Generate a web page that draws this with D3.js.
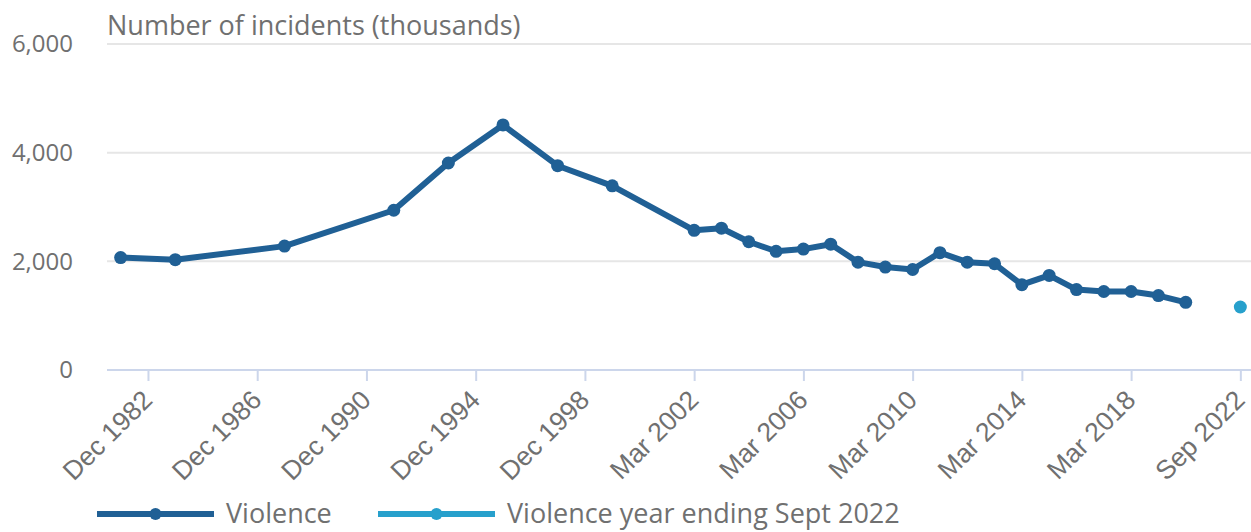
<!DOCTYPE html>
<html>
<head>
<meta charset="utf-8">
<script src="https://cdn.jsdelivr.net/npm/d3@7"></script>
<style>
  body { margin: 0; background: #fff; }
  svg { display: block; font-family: "Open Sans", sans-serif; }
</style>
</head>
<body>
<script>
"use strict";
// categories, one slot per survey period (gaps are years with no estimate)
var categories = [
  "Dec 1981", "Dec 1982", "Dec 1983", "Dec 1984", "Dec 1985", "Dec 1986", "Dec 1987",
  "Dec 1988", "Dec 1989", "Dec 1990", "Dec 1991", "Dec 1992", "Dec 1993", "Dec 1994",
  "Dec 1995", "Dec 1996", "Dec 1997", "Dec 1998", "Dec 1999", "Dec 2000", "Mar 2001",
  "Mar 2002", "Mar 2003", "Mar 2004", "Mar 2005", "Mar 2006", "Mar 2007", "Mar 2008",
  "Mar 2009", "Mar 2010", "Mar 2011", "Mar 2012", "Mar 2013", "Mar 2014", "Mar 2015",
  "Mar 2016", "Mar 2017", "Mar 2018", "Mar 2019", "Mar 2020", "Mar 2021", "Sep 2022"
];
var violence = [
  2070, null, 2030, null, null, null, 2280,
  null, null, null, 2940, null, 3810, null,
  4510, null, 3760, null, 3390, null, null,
  2570, 2610, 2360, 2185, 2225, 2315, 1985,
  1895, 1850, 2160, 1985, 1955, 1570, 1740,
  1480, 1445, 1445, 1370, 1245, null, null
];
var violenceSept2022 = [{ cat: "Sep 2022", value: 1160 }];
var tickLabels = ["Dec 1982", "Dec 1986", "Dec 1990", "Dec 1994", "Dec 1998",
  "Mar 2002", "Mar 2006", "Mar 2010", "Mar 2014", "Mar 2018", "Sep 2022"];
var yTicks = [0, 2000, 4000, 6000];
var seriesNames = ["Violence", "Violence year ending Sept 2022"];

(function () {
  var W = 1251, H = 532;
  var plot = { left: 107, right: 1254, top: 44, bottom: 370 };
  var dark = "#206095", light = "#27a0cc", textCol = "#707070";

  var svg = d3.select("body").append("svg")
    .attr("width", W).attr("height", H);

  var x = d3.scalePoint().domain(categories)
    .range([plot.left, plot.right]).padding(0.5);
  var y = d3.scaleLinear().domain([0, 6000]).range([plot.bottom, plot.top]);

  // gridlines
  svg.append("g").selectAll("line")
    .data(yTicks.filter(function (d) { return d > 0; }))
    .enter().append("line")
    .attr("x1", plot.left).attr("x2", W)
    .attr("y1", function (d) { return y(d); })
    .attr("y2", function (d) { return y(d); })
    .attr("stroke", "#e6e6e6").attr("stroke-width", 2);

  // y labels
  svg.append("g").selectAll("text")
    .data(yTicks).enter().append("text")
    .attr("x", 73).attr("y", function (d) { return y(d); })
    .attr("dy", "0.35em")
    .attr("text-anchor", "end")
    .attr("fill", textCol).style("font-size", "24px")
    .text(function (d) { return d3.format(",")(d); });

  svg.append("text")
    .attr("x", plot.left).attr("y", 35)
    .attr("fill", textCol).style("font-size", "27px")
    .text("Number of incidents (thousands)");

  // x axis
  var xAxis = svg.append("g")
    .attr("transform", "translate(0," + plot.bottom + ")")
    .call(d3.axisBottom(x).tickValues(tickLabels).tickSize(11).tickPadding(8));
  xAxis.select(".domain").attr("stroke", "#ccd6eb").attr("stroke-width", 2)
    .attr("d", "M" + plot.left + ",0H" + W);
  xAxis.selectAll(".tick line").attr("stroke", "#ccd6eb").attr("stroke-width", 2);
  xAxis.selectAll(".tick text")
    .attr("fill", textCol).style("font-size", "26.5px")
    .attr("text-anchor", "end")
    .attr("x", 0).attr("y", 0)
    .attr("dy", "0.35em")
    .attr("transform", "translate(-1,25) rotate(-45)");

  // violence line
  var pts = categories.map(function (c, i) { return { cat: c, value: violence[i] }; })
    .filter(function (d) { return d.value !== null; });

  var line = d3.line()
    .x(function (d) { return x(d.cat); })
    .y(function (d) { return y(d.value); });

  svg.append("path")
    .attr("d", line(pts))
    .attr("fill", "none")
    .attr("stroke", dark).attr("stroke-width", 6)
    .attr("stroke-linejoin", "round");

  svg.append("g").selectAll("circle")
    .data(pts).enter().append("circle")
    .attr("cx", function (d) { return x(d.cat); })
    .attr("cy", function (d) { return y(d.value); })
    .attr("r", 6.5).attr("fill", dark);

  svg.append("g").selectAll("circle")
    .data(violenceSept2022).enter().append("circle")
    .attr("cx", function (d) { return x(d.cat); })
    .attr("cy", function (d) { return y(d.value); })
    .attr("r", 6.5).attr("fill", light);

  // legend
  var legendX = [97, 378];
  var colors = [dark, light];
  seriesNames.forEach(function (name, i) {
    var g = svg.append("g").attr("transform", "translate(" + legendX[i] + ",514)");
    g.append("line").attr("x1", 0).attr("x2", 117)
      .attr("stroke", colors[i]).attr("stroke-width", 6);
    g.append("circle").attr("cx", 58.5).attr("r", 6).attr("fill", colors[i]);
    g.append("text").attr("x", 129).attr("dy", "0.35em")
      .attr("fill", textCol).style("font-size", "27px").text(name);
  });
})();
</script>
</body>
</html>
